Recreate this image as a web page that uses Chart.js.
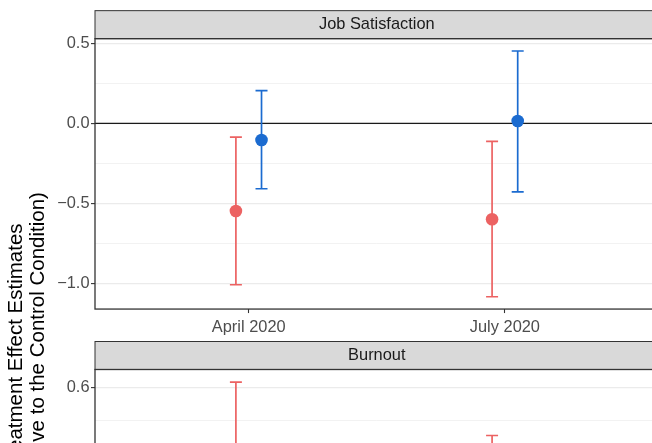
<!DOCTYPE html>
<html>
<head>
<meta charset="utf-8">
<script src="https://cdn.jsdelivr.net/npm/chart.js@4.4.1/dist/chart.umd.min.js"></script>
<style>
  html, body { margin: 0; padding: 0; background: #fff; overflow: hidden; width: 652px; height: 443px; }
  canvas { position: absolute; left: 0; top: 0; }
</style>
</head>
<body>
<canvas id="jobChart" width="680" height="700"></canvas>
<canvas id="burnChart" width="680" height="700"></canvas>
<script>
const categories = ['April 2020', 'July 2020'];
const seriesNames = ['Treatment 1', 'Treatment 2'];

// Job Satisfaction panel
const jobEstRed = [-0.548, -0.600];
const jobLowRed = [-1.009, -1.084];
const jobHighRed = [-0.086, -0.113];
const jobEstBlue = [-0.104, 0.014];
const jobLowBlue = [-0.409, -0.428];
const jobHighBlue = [0.204, 0.452];

// Burnout panel: only the tops of the red bars are inside the crop,
// everything lower is cut off and just a rough guess
const burnEstRed = [0.33, 0.16];
const burnLowRed = [0.04, -0.13];
const burnHighRed = [0.617, 0.455];
const burnEstBlue = [0.08, 0.05];
const burnLowBlue = [-0.14, -0.15];
const burnHighBlue = [0.30, 0.26];

const jobMajor = [0.5, 0, -0.5, -1.0];
const jobMinor = [0.25, -0.25, -0.75];
const burnMajor = [0.6, 0.4, 0.2, 0.0];
const burnMinor = [0.5, 0.3, 0.1, -0.1];

const RED = '#EC6262';
const BLUE = '#1B6BD0';
const DODGE = 0.05;
const FONT = "'Liberation Sans', Arial, Helvetica, sans-serif";

Chart.defaults.font.family = FONT;

const facetPlugin = {
    id: 'facet',
    beforeDatasetsDraw(chart) {
        const {ctx, chartArea: a, scales: {x, y}} = chart;
        ctx.save();
        ctx.beginPath();
        ctx.rect(a.left, a.top, a.width, a.height);
        ctx.clip();
        // zero reference line
        const y0 = y.getPixelForValue(0);
        ctx.strokeStyle = '#1a1a1a';
        ctx.lineWidth = 1.3;
        ctx.beginPath();
        ctx.moveTo(a.left, y0);
        ctx.lineTo(a.right, y0);
        ctx.stroke();
        // error bars
        chart.data.datasets.forEach(ds => {
            ctx.strokeStyle = ds.backgroundColor;
            ctx.lineWidth = 1.7;
            ds.data.forEach((p, i) => {
                const px = x.getPixelForValue(p.x);
                const lo = y.getPixelForValue(ds.low[i]);
                const hi = y.getPixelForValue(ds.high[i]);
                ctx.beginPath();
                ctx.moveTo(px, lo); ctx.lineTo(px, hi);
                ctx.moveTo(px - 6, lo); ctx.lineTo(px + 6, lo);
                ctx.moveTo(px - 6, hi); ctx.lineTo(px + 6, hi);
                ctx.stroke();
            });
        });
        ctx.restore();
    },
    afterDraw(chart, args, opts) {
        const {ctx, chartArea: a} = chart;
        ctx.save();
        // strip
        ctx.fillStyle = '#d9d9d9';
        ctx.fillRect(a.left, a.top - 28, a.width, 28);
        ctx.strokeStyle = '#333';
        ctx.lineWidth = 1;
        ctx.strokeRect(a.left, a.top - 28, a.width, 28);
        ctx.fillStyle = '#1a1a1a';
        ctx.font = '16.4px ' + FONT;
        ctx.textAlign = 'center';
        ctx.textBaseline = 'middle';
        ctx.fillText(opts.title, (a.left + a.right) / 2, a.top - 14);
        // panel border
        ctx.lineWidth = 1.3;
        ctx.strokeRect(a.left, a.top, a.width, a.height);
        // shared y axis title
        if (opts.yTitle) {
            ctx.translate(0, 346.5);
            ctx.rotate(-Math.PI / 2);
            ctx.fillStyle = '#000';
            ctx.font = '20.5px ' + FONT;
            ctx.textBaseline = 'alphabetic';
            ctx.fillText(opts.yTitle[0], 0, 21.5);
            ctx.fillText(opts.yTitle[1], 0, 43.8);
        }
        ctx.restore();
    }
};

function fmt(v) {
    return v.toFixed(1).replace('-', '\u2212');
}

function makeFacet(id, title, red, blue, yMin, yMax, major, minor, pad, yTitle) {
    const isMajor = v => major.some(m => Math.abs(m - v) < 1e-9);
    const points = (est, shift) => est.map((v, i) => ({x: i + 1 + shift, y: v}));
    return new Chart(document.getElementById(id), {
        type: 'scatter',
        data: {
            datasets: [
                { label: seriesNames[0], data: points(red[0], -DODGE), low: red[1], high: red[2],
                  backgroundColor: RED, borderWidth: 0, pointRadius: 6.3 },
                { label: seriesNames[1], data: points(blue[0], DODGE), low: blue[1], high: blue[2],
                  backgroundColor: BLUE, borderWidth: 0, pointRadius: 6.3 }
            ]
        },
        options: {
            responsive: false,
            animation: false,
            layout: { padding: pad },
            plugins: {
                legend: { display: false },
                tooltip: { enabled: false },
                facet: { title: title, yTitle: yTitle }
            },
            scales: {
                x: {
                    type: 'linear', min: 0.4, max: 2.6,
                    afterBuildTicks: s => { s.ticks = categories.map((c, i) => ({value: i + 1})); },
                    afterFit: s => { s.height = 30; },
                    border: { display: false },
                    grid: { drawOnChartArea: false, tickLength: 4, tickColor: '#333', tickWidth: 1.1 },
                    ticks: { color: '#4d4d4d', font: { size: 16.4 }, padding: 4.5,
                             callback: v => categories[Math.round(v) - 1] }
                },
                y: {
                    min: yMin, max: yMax,
                    afterBuildTicks: s => { s.ticks = major.concat(minor).map(v => ({value: v})); },
                    afterFit: s => { s.width = 95; },
                    border: { display: false },
                    grid: {
                        color: c => isMajor(c.tick.value) ? '#ebebeb' : '#f2f2f2',
                        lineWidth: c => isMajor(c.tick.value) ? 1.2 : 1,
                        tickLength: 4,
                        tickColor: c => isMajor(c.tick.value) ? '#333' : 'rgba(0,0,0,0)',
                        tickWidth: 1.1
                    },
                    ticks: { color: '#4d4d4d', font: { size: 16.4 }, padding: 1.5, autoSkip: false,
                             callback: v => isMajor(v) ? fmt(v) : '' }
                }
            }
        },
        plugins: [facetPlugin]
    });
}

makeFacet('jobChart', 'Job Satisfaction',
    [jobEstRed, jobLowRed, jobHighRed], [jobEstBlue, jobLowBlue, jobHighBlue],
    -1.161, 0.529, jobMajor, jobMinor,
    { top: 38.66, right: 21.4, bottom: 360.94, left: 0 },
    ['Treatment Effect Estimates', '(Relative to the Control Condition)']);

makeFacet('burnChart', 'Burnout',
    [burnEstRed, burnLowRed, burnHighRed], [burnEstBlue, burnLowBlue, burnHighBlue],
    -0.165, 0.655, burnMajor, burnMinor,
    { top: 369.5, right: 21.4, bottom: 29.9, left: 0 },
    null);
</script>
</body>
</html>
